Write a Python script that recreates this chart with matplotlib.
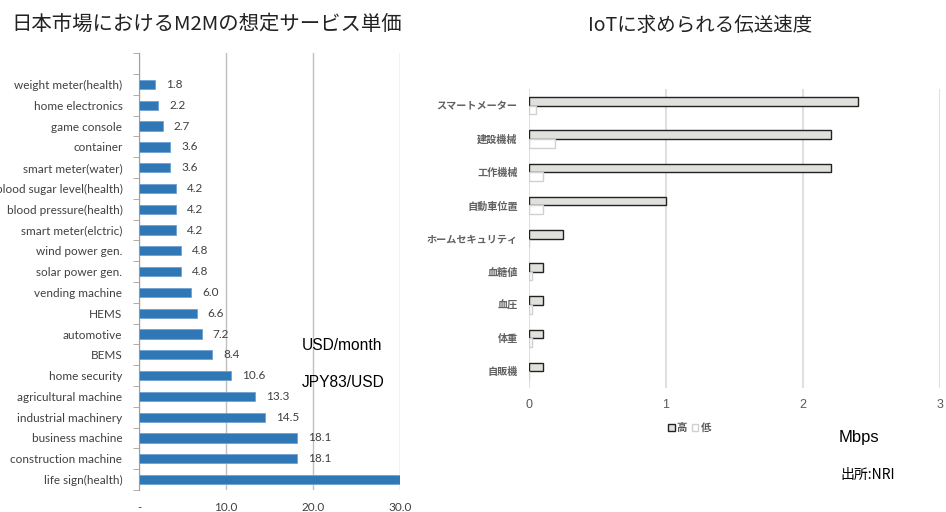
import matplotlib.pyplot as plt
from matplotlib.patches import Patch
import numpy as np

plt.rcParams['font.family'] = ['Noto Sans CJK JP', 'DejaVu Sans']

# ---- left chart data (USD/month) ----
services = ["life sign(health)", "construction machine", "business machine",
            "industrial machinery", "agricultural machine", "home security",
            "BEMS", "automotive", "HEMS", "vending machine", "solar power gen.",
            "wind power gen.", "smart meter(elctric)", "blood pressure(health)",
            "blood sugar level(health)", "smart meter(water)", "container",
            "game console", "home electronics", "weight meter(health)"]
prices = [30.0, 18.1, 18.1, 14.5, 13.3, 10.6, 8.4, 7.2, 6.6, 6.0, 4.8,
          4.8, 4.2, 4.2, 4.2, 3.6, 3.6, 2.7, 2.2, 1.8]
price_ticks = [0, 10, 20, 30]
price_ticklabels = ["-", "10.0", "20.0", "30.0"]

# ---- right chart data (Mbps) ----
uses = ["スマートメーター", "建設機械", "工作機械", "自動車位置", "ホームセキュリティ",
        "血糖値", "血圧", "体重", "自販機"]
speed_high = [2.4, 2.2, 2.2, 1.0, 0.25, 0.1, 0.1, 0.1, 0.1]
speed_low = [0.05, 0.19, 0.1, 0.1, 0.0, 0.02, 0.02, 0.02, 0.0]

fig = plt.figure(figsize=(9.46, 5.12), dpi=100)

# =========== left ===========
ax1 = fig.add_axes([0.147, 0.043, 0.276, 0.853])
y = np.arange(len(services))
ax1.barh(y, prices, height=0.45, color="#2F77B5", edgecolor="#6FA3D2", linewidth=0.6, zorder=3)
for yi, v in zip(y, prices):
    # the label of a bar running past the axis end is clipped, as in the source
    ax1.annotate(f"{v:.1f}", (v, yi), xytext=(8, 0), textcoords="offset points",
                 va="center", ha="left", fontsize=8.5, color="#404040",
                 family="Lato", clip_on=True)
ax1.set_xlim(0, 30)
ax1.set_ylim(-0.5, len(services) + 0.5)
ax1.set_yticks(y)
ax1.set_yticklabels(services, fontsize=8.5, color="#404040", family="Lato")
ax1.set_yticks(np.arange(-0.5, len(services) + 1), minor=True)
ax1.tick_params(axis="y", which="major", length=0, pad=12)
ax1.tick_params(axis="y", which="minor", length=4, color="#a0a0a0")
ax1.set_xticks(price_ticks)
ax1.set_xticklabels(price_ticklabels, fontsize=8.5, color="#404040", family="Lato")
ax1.tick_params(axis="x", length=0, pad=9)
ax1.grid(axis="x", color="#bfbfbf", linewidth=1.0, zorder=0)
for s in ["top", "right", "bottom"]:
    ax1.spines[s].set_visible(False)
ax1.spines["left"].set_color("#a0a0a0")
ax1.set_axisbelow(True)

fig.text(0.012, 0.953, "日本市場におけるM2Mの想定サービス単価", fontsize=14.7,
         color="#222222", va="center", ha="left")
fig.text(0.319, 0.326, "USD/month", fontsize=11.2, family="Liberation Sans", va="center")
fig.text(0.319, 0.252, "JPY83/USD", fontsize=11.2, family="Liberation Sans", va="center")

# =========== right ===========
ax2 = fig.add_axes([0.559, 0.242, 0.435, 0.584])
y2 = np.arange(len(uses))
bh = 0.26
ax2.barh(y2 - bh / 2, speed_high, height=bh, color="#e0e0dc", edgecolor="#222222",
         linewidth=1.0, zorder=3, label="高")
ax2.barh(y2 + bh / 2, speed_low, height=bh, color="white", edgecolor="#d0d0d0",
         linewidth=1.0, zorder=3, label="低")
ax2.set_xlim(0, 3)
ax2.set_ylim(len(uses) - 0.5, -0.5)
ax2.set_yticks(y2)
ax2.set_yticklabels(uses, fontsize=7.3, color="#606060", fontweight="bold")
ax2.tick_params(axis="y", length=0, pad=8)
ax2.set_xticks([0, 1, 2, 3])
ax2.tick_params(axis="x", length=0, pad=8, labelsize=9, labelcolor="#595959")
for lbl in ax2.get_xticklabels():
    lbl.set_family("Liberation Sans")
ax2.grid(axis="x", color="#e0e0e0", linewidth=1.5, zorder=0)
for s in ["top", "right", "bottom", "left"]:
    ax2.spines[s].set_visible(False)
ax2.set_axisbelow(True)

handles = [Patch(facecolor="#e0e0dc", edgecolor="#222222", label="高"),
           Patch(facecolor="white", edgecolor="#d0d0d0", label="低")]
leg = fig.legend(handles=handles, loc="center", bbox_to_anchor=(0.729, 0.164), ncol=2,
                 frameon=False, fontsize=7.5, handlelength=0.6, handleheight=0.6,
                 handletextpad=0.2, columnspacing=0.5, labelcolor="#595959")
for t in leg.get_texts():
    t.set_fontweight("bold")

fig.text(0.740, 0.950, "IoTに求められる伝送速度", fontsize=14, color="#222222",
         va="center", ha="center")
fig.text(0.886, 0.145, "Mbps", fontsize=12, family="Liberation Sans", va="center")
fig.text(0.888, 0.072, "出所:NRI", fontsize=10, va="center")

fig.savefig("out.png", dpi=100)
